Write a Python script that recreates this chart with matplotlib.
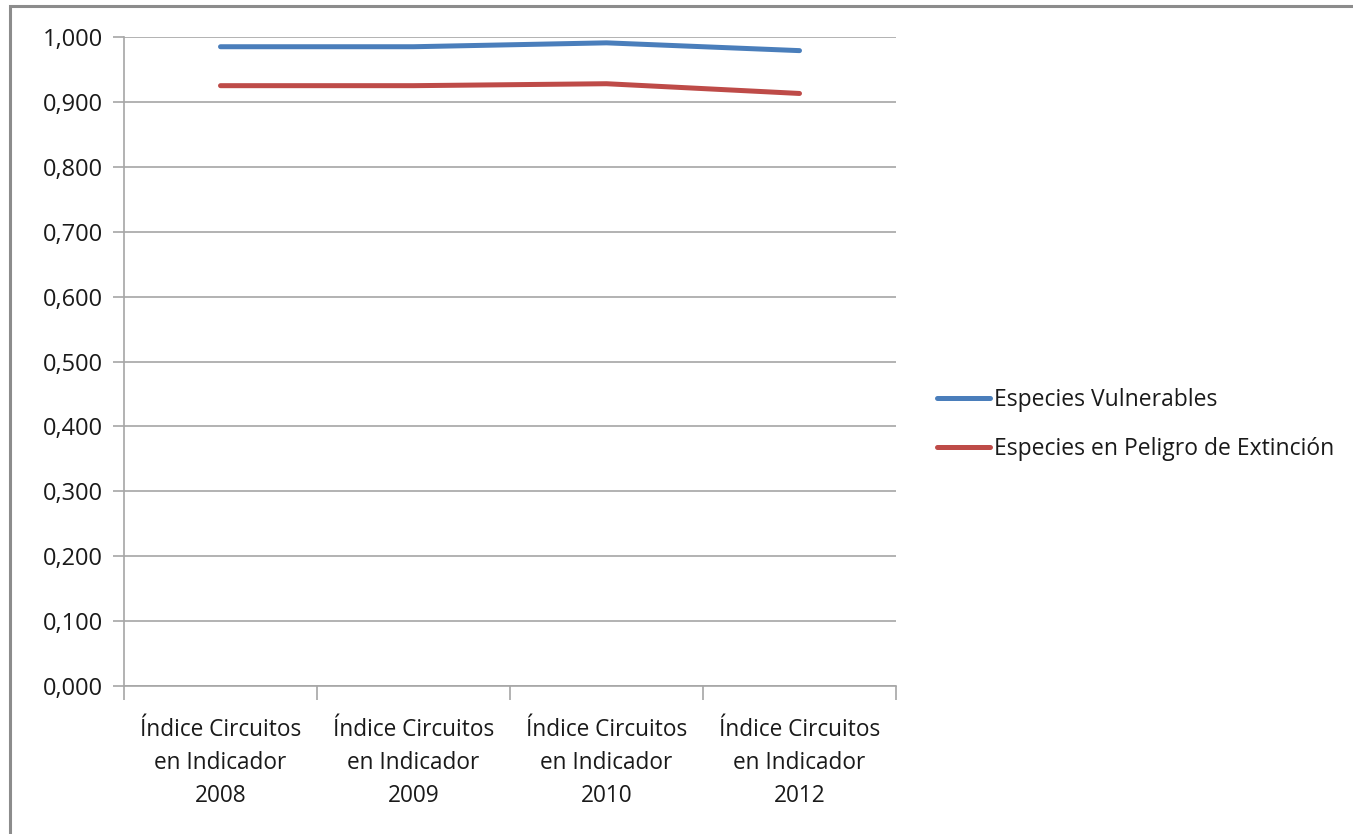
import matplotlib
matplotlib.use("Agg")
import matplotlib.pyplot as plt
from matplotlib.patches import Rectangle
from matplotlib.ticker import FixedLocator, FuncFormatter

plt.rcParams['font.family'] = ['Open Sans', 'DejaVu Sans']

categories = ["Índice Circuitos\nen Indicador\n2008",
              "Índice Circuitos\nen Indicador\n2009",
              "Índice Circuitos\nen Indicador\n2010",
              "Índice Circuitos\nen Indicador\n2012"]
vulnerables = [0.985, 0.985, 0.991, 0.979]
peligro = [0.925, 0.925, 0.928, 0.913]
series_names = ["Especies Vulnerables", "Especies en Peligro de Extinción"]
y_ticks = [0.0, 0.1, 0.2, 0.3, 0.4, 0.5, 0.6, 0.7, 0.8, 0.9, 1.0]

W, H = 1353, 834
fig = plt.figure(figsize=(W / 100, H / 100), dpi=100)
fig.patch.set_facecolor("white")

# outer chart frame
fig.patches.append(Rectangle((10 / W, -0.05), 1.2, (H - 6) / H + 0.05,
                             transform=fig.transFigure, fill=False,
                             edgecolor="#8c8c8c", linewidth=2.2))

ax = fig.add_axes([124 / W, (H - 686) / H, (896 - 124) / W, (686 - 37) / H])
x = range(len(categories))
grid_c = "#a6a6a6"
text_c = "#1a1a1a"

ax.plot(x, vulnerables, color="#4a7ebb", linewidth=3.6, solid_capstyle="round",
        label=series_names[0])
ax.plot(x, peligro, color="#be4b48", linewidth=3.6, solid_capstyle="round",
        label=series_names[1])

ax.set_xlim(-0.5, len(categories) - 0.5)
ax.set_ylim(0, 1.0)
ax.yaxis.set_major_locator(FixedLocator(y_ticks))
ax.yaxis.set_major_formatter(FuncFormatter(lambda v, p: f"{v:.3f}".replace(".", ",")))
ax.grid(axis="y", color=grid_c, linewidth=1.2)
ax.set_axisbelow(True)

ax.set_xticks(list(x))
ax.set_xticklabels(categories, fontsize=16.3, color=text_c, linespacing=1.5)
ax.xaxis.set_minor_locator(FixedLocator([i - 0.5 for i in range(len(categories) + 1)]))
ax.tick_params(axis="x", which="major", length=0, pad=23)
ax.tick_params(axis="x", which="minor", length=10, color=grid_c, width=1.2)
ax.tick_params(axis="y", length=8, color=grid_c, width=1.2, labelsize=17,
               labelcolor=text_c, pad=7)

for s in ["top", "right"]:
    ax.spines[s].set_visible(False)
for s in ["left", "bottom"]:
    ax.spines[s].set_color(grid_c)
    ax.spines[s].set_linewidth(1.2)

leg = fig.legend(loc="upper left", bbox_to_anchor=(928 / W, (H - 379) / H),
                 frameon=False, fontsize=16.5, handlelength=2.3, handletextpad=0.2,
                 labelspacing=1.08, borderaxespad=0)
for t in leg.get_texts():
    t.set_color(text_c)

fig.savefig("out.png", dpi=100, facecolor="white")
